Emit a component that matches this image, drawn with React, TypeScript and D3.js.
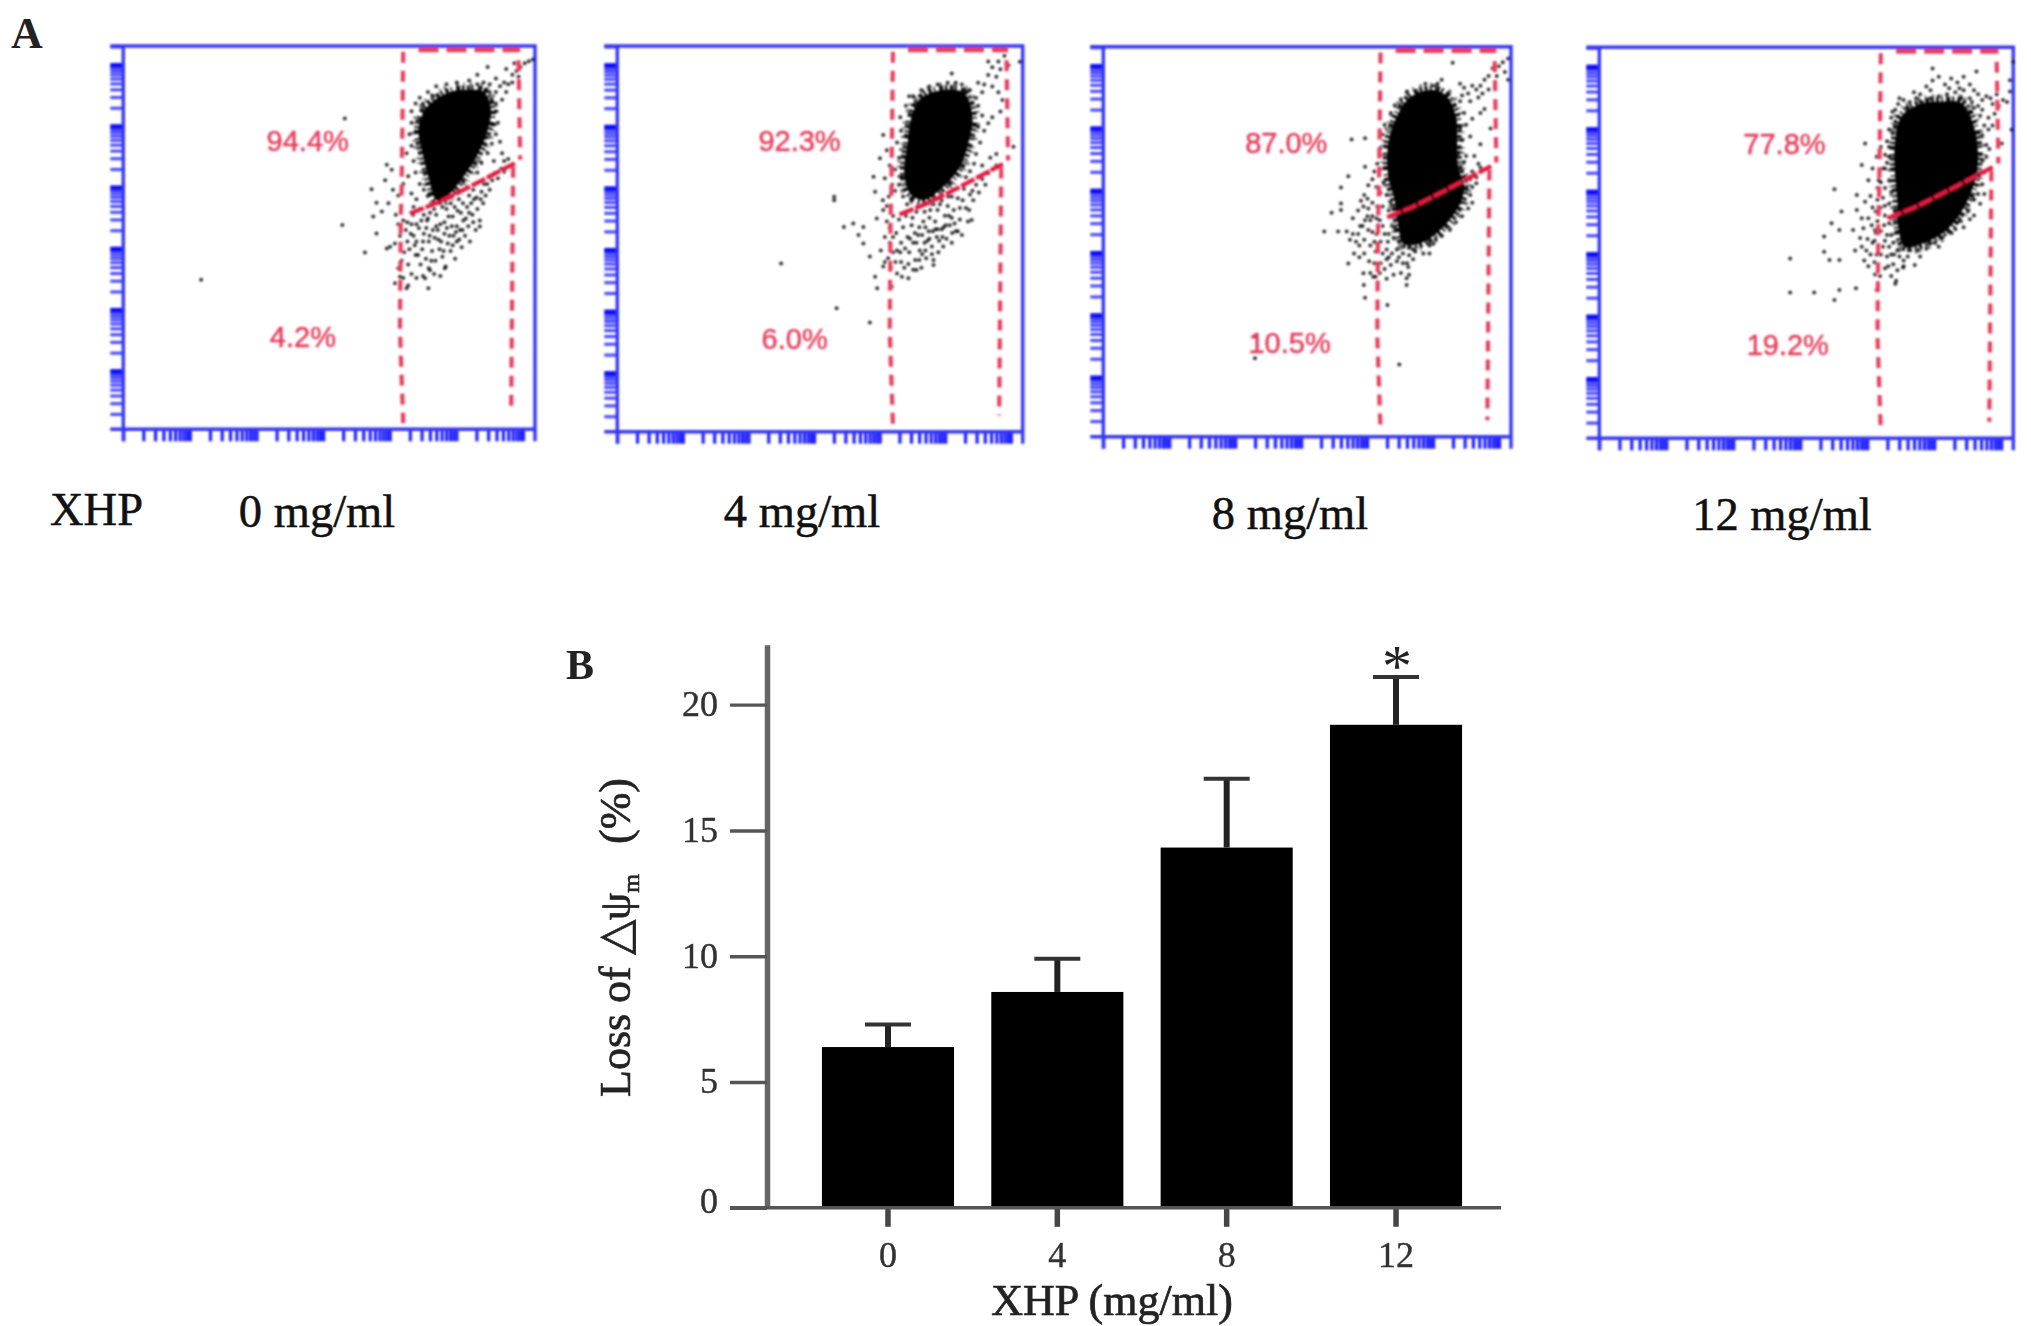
import React, { useEffect, useRef } from 'react'
import * as d3 from 'd3'

// ---- panel A, flow plots. events are in display channels 0-1000 on both axes
type Pt = [number, number]

const doses = ['0 mg/ml', '4 mg/ml', '8 mg/ml', '12 mg/ml']
const upperPct = ['94.4%', '92.3%', '87.0%', '77.8%']
const lowerPct = ['4.2%', '6.0%', '10.5%', '19.2%']

const gateLeft: Pt[] = [[680, 985], [676, 624], [674, 555], [672, 259], [680, 16]]
const gateRightUpper: Pt[] = [[960, 963], [964, 703]]
const gateRightLower: Pt[] = [[947, 685], [942, 42]]
const gateTop: Pt[] = [[717, 990], [964, 990]]
const gateSplit: Pt[] = [[696, 563], [761, 590], [842, 633], [951, 694]]

const core0: Pt[] = [[830, 885], [875, 880], [893, 835], [885, 781], [862, 720], [826, 659], [785, 607], [761, 598], [741, 659], [727, 720], [717, 781], [732, 833], [765, 865], [800, 882]]
const core4: Pt[] = [[804, 886], [855, 878], [876, 817], [866, 748], [845, 687], [804, 635], [755, 601], [722, 618], [708, 670], [716, 748], [726, 817], [750, 865]]
const core8: Pt[] = [[809, 889], [840, 875], [865, 821], [868, 752], [870, 692], [885, 641], [875, 598], [834, 538], [777, 496], [736, 496], [722, 556], [714, 610], [699, 667], [699, 752], [720, 821], [755, 872]]
const core12: Pt[] = [[825, 861], [875, 857], [905, 797], [915, 720], [908, 661], [882, 593], [839, 533], [783, 499], [738, 490], [722, 541], [720, 609], [714, 677], [714, 754], [730, 823], [775, 855]]

const cells0: Pt[] = [
  [538, 811], [532, 533], [587, 461], [189, 390], [603, 626], [615, 591], [615, 511], [640, 690], [652, 677], [636, 650], [644, 590], [607, 555], [628, 568], [648, 476], [660, 485], [640, 472], [660, 381], [672, 398], [688, 368], [741, 368], [733, 394], [781, 420], [866, 529],
  [905, 880], [915, 895], [925, 905], [935, 900], [945, 925], [955, 935], [965, 945], [975, 955], [985, 960], [995, 965], [930, 880], [945, 905], [960, 920], [905, 850], [920, 860], [890, 900], [875, 905], [860, 925], [905, 915], [890, 880], [950, 955], [930, 940], [885, 945],
  [700, 830], [710, 850], [720, 865], [740, 880], [760, 895], [785, 900], [810, 905], [840, 910], [860, 900], [880, 885], [905, 830], [910, 800], [905, 770], [895, 745], [885, 720], [870, 695], [900, 700], [920, 720], [890, 660], [860, 670], [700, 800], [695, 770], [700, 740], [705, 700], [710, 670], [720, 640], [730, 625], [740, 610], [688, 720], [692, 660], [680, 640], [668, 610], [655, 625], [700, 615], [712, 600], [722, 810], [728, 850], [752, 870], [895, 860], [900, 795], [880, 760], [915, 750], [925, 700], [935, 705],
  [662, 560], [668, 535], [672, 505], [680, 545], [686, 520], [690, 490], [695, 470], [700, 535], [705, 505], [710, 455], [712, 490], [718, 525], [722, 430], [726, 470], [730, 510], [735, 445], [738, 545], [742, 490], [745, 415], [750, 465], [752, 520], [758, 440], [760, 560], [765, 495], [768, 470], [770, 535], [775, 450], [780, 510], [783, 425], [788, 485], [790, 555], [795, 465], [798, 530], [802, 505], [806, 445], [810, 490], [812, 570], [818, 520], [822, 475], [826, 545], [830, 505], [835, 580], [838, 530], [842, 490], [848, 560], [852, 600], [856, 520], [860, 575], [866, 545], [870, 620], [874, 590], [880, 610], [884, 640], [890, 625], [896, 650], [902, 668], [910, 655], [918, 680], [925, 672], [682, 462], [676, 440], [668, 420], [692, 430], [700, 405], [712, 395], [728, 400], [692, 375], [680, 395], [742, 420], [755, 405], [770, 400],
  [775, 580], [785, 575], [795, 590], [805, 580], [815, 600], [825, 590], [840, 610], [850, 625], [755, 575], [745, 565], [800, 555], [820, 565], [845, 590], [780, 540], [760, 530], [810, 530], [730, 560], [720, 575], [705, 580],
  [690, 540], [698, 510], [708, 480], [716, 455], [728, 490], [736, 525], [744, 505], [748, 440], [756, 500], [764, 520], [772, 490], [778, 465], [786, 525], [792, 505], [800, 480], [808, 515], [816, 495], [824, 520], [832, 550], [840, 565], [850, 540], [858, 605], [868, 600], [876, 640], [740, 550], [724, 545], [712, 535], [704, 560],
]

const cells4: Pt[] = [
  [535, 609], [535, 600], [559, 531], [582, 540], [404, 436], [541, 320], [623, 283], [977, 739], [993, 959], [825, 929], [656, 769], [648, 709], [632, 661], [660, 657], [636, 622], [656, 575], [640, 553], [607, 531], [595, 510], [607, 488], [623, 454], [656, 428], [636, 402], [641, 372], [677, 376], [702, 402], [718, 398], [738, 419], [780, 432], [874, 549],
  [905, 900], [915, 925], [925, 945], [940, 960], [955, 975], [915, 960], [935, 920], [945, 940], [965, 950], [900, 880], [890, 905], [925, 895], [940, 880], [950, 860], [945, 830], [915, 800], [925, 815], [900, 820], [905, 780], [890, 845], [870, 885], [850, 900], [835, 905], [815, 905], [790, 900], [770, 895], [750, 885], [730, 870], [712, 845], [698, 815], [700, 780], [690, 750], [695, 710], [685, 680], [700, 660], [672, 690], [665, 730], [890, 790], [895, 750], [885, 720], [880, 695], [900, 690], [920, 710], [935, 720], [870, 675], [860, 660], [720, 870], [735, 850], [885, 865],
  [655, 600], [665, 585], [670, 610], [678, 640], [685, 625], [695, 640], [705, 610], [715, 590], [725, 600], [665, 545], [672, 530], [680, 560], [688, 515], [695, 550], [700, 490], [705, 530], [712, 560], [716, 505], [720, 465], [726, 535], [730, 490], [735, 445], [738, 570], [742, 510], [746, 470], [750, 425], [755, 545], [758, 490], [762, 450], [768, 520], [772, 575], [776, 480], [780, 445], [784, 545], [788, 505], [792, 465], [796, 590], [800, 525], [804, 480], [808, 560], [812, 500], [816, 610], [820, 535], [825, 490], [830, 575], [835, 520], [840, 605], [845, 550], [850, 510], [855, 630], [860, 580], [865, 545], [870, 615], [878, 600], [885, 640], [892, 620], [900, 655], [908, 640], [915, 670], [925, 680], [935, 690],
  [672, 490], [680, 465], [686, 440], [675, 425], [690, 410], [700, 440], [708, 425], [718, 435], [730, 420], [745, 445], [760, 470], [680, 505], [690, 470], [660, 505], [650, 470], [668, 450], [660, 440], [728, 555], [748, 585], [770, 555], [790, 575], [815, 585], [745, 530], [765, 495], [785, 525], [805, 530], [825, 555], [845, 580],
  [710, 475], [722, 500], [734, 515], [752, 460], [770, 500], [778, 520], [794, 495], [810, 535], [818, 560], [832, 540], [840, 520], [852, 600], [868, 575], [876, 625], [752, 510], [760, 530], [738, 490], [698, 465], [776, 460], [790, 525], [802, 505], [826, 515], [758, 570], [780, 590], [800, 600], [825, 610],
]

const cells8: Pt[] = [
  [609, 762], [642, 765], [642, 692], [601, 668], [583, 639], [583, 598], [583, 581], [560, 574], [542, 526], [576, 526], [597, 526], [601, 444], [638, 419], [662, 410], [639, 389], [642, 356], [697, 338], [744, 406], [744, 389], [726, 185], [372, 201], [372, 256], [857, 959], [993, 970], [993, 915],
  [970, 950], [980, 960], [955, 945], [945, 925], [935, 915], [925, 900], [915, 890], [905, 900], [895, 880], [885, 895], [875, 905], [880, 875], [900, 860], [930, 880], [945, 890], [965, 925], [985, 935], [830, 915], [820, 905], [810, 900], [790, 905], [770, 880], [745, 885], [730, 865], [715, 850], [705, 830], [690, 800], [685, 775], [680, 740], [672, 700], [665, 680], [875, 860], [885, 830], [890, 800], [905, 815], [875, 790], [880, 760], [870, 725], [900, 770], [885, 705], [905, 680], [920, 700], [925, 690], [900, 660], [915, 665], [880, 680], [890, 720], [910, 720], [925, 750], [920, 870], [935, 840], [950, 790], [925, 830],
  [688, 650], [680, 625], [670, 640], [660, 660], [650, 645], [640, 620], [632, 605], [625, 580], [612, 560], [605, 505], [620, 500], [612, 520], [630, 540], [642, 555], [650, 530], [640, 505], [628, 490], [655, 490], [668, 475], [660, 565], [672, 590], [678, 555], [685, 590], [695, 620], [700, 580], [708, 540], [690, 520], [680, 500], [695, 480], [712, 510], [670, 520], [650, 585], [615, 470], [628, 460], [640, 470], [652, 450], [665, 445], [680, 445], [695, 455], [708, 470], [720, 480], [735, 470], [750, 465], [765, 475], [785, 470], [800, 490], [815, 505], [690, 430], [705, 440], [720, 450], [735, 445], [748, 435], [730, 420], [712, 415], [695, 405], [678, 420], [668, 410], [750, 415], [655, 420],
  [900, 620], [905, 600], [895, 585], [880, 565], [865, 550], [850, 530], [830, 515], [810, 495], [905, 640], [915, 650], [890, 655], [800, 470], [760, 480], [875, 600], [850, 580],
  [660, 600], [648, 565], [636, 540], [625, 520], [660, 525], [672, 495], [685, 470], [698, 500], [705, 600], [715, 570], [700, 460], [665, 500], [648, 610], [638, 590], [655, 555], [670, 560], [685, 540], [700, 520], [715, 535], [725, 460], [745, 445], [760, 455],
]

const cells12: Pt[] = [
  [805, 946], [461, 460], [461, 373], [519, 373], [568, 354], [580, 379], [620, 384], [670, 379], [666, 419], [717, 403], [762, 443], [734, 437], [543, 516], [543, 477], [556, 456], [580, 456], [561, 550], [580, 533], [585, 580], [568, 637], [618, 480], [634, 490], [642, 754], [634, 699], [622, 622], [642, 605], [622, 584], [634, 563], [650, 563], [613, 533], [638, 537], [630, 512], [666, 533], [1000, 963], [996, 789], [972, 754], [863, 552], [911, 938], [992, 916], [992, 887],
  [775, 880], [790, 900], [805, 915], [820, 925], [835, 905], [850, 920], [865, 910], [880, 925], [895, 905], [905, 890], [915, 880], [925, 865], [935, 875], [945, 870], [960, 880], [975, 865], [985, 860], [950, 855], [965, 850], [860, 885], [880, 890], [840, 880], [820, 875], [800, 870], [780, 860], [765, 870], [750, 860], [735, 865], [722, 855], [715, 840], [705, 820], [700, 790], [695, 760], [690, 725], [685, 690], [675, 660], [670, 720], [680, 745], [690, 690], [700, 660], [705, 630], [690, 640], [672, 610], [680, 590], [690, 570], [700, 550], [705, 520], [700, 490], [690, 505], [680, 530], [672, 555], [665, 505], [680, 470], [695, 465], [712, 470], [725, 465], [745, 465], [770, 480], [790, 485], [810, 500], [830, 515], [850, 525], [870, 555], [890, 580], [905, 610], [925, 650], [930, 680], [935, 720], [935, 750], [925, 775], [930, 800], [920, 825], [905, 845], [895, 835], [945, 690], [950, 800], [955, 830], [940, 820], [895, 870], [875, 870], [710, 445], [698, 440], [720, 430], [735, 455], [690, 435], [705, 415], [665, 450], [670, 470], [715, 395], [678, 415],
  [660, 690], [650, 660], [655, 620], [660, 590], [668, 580], [658, 545], [648, 510], [672, 640], [685, 615], [655, 470], [660, 500], [645, 480], [650, 440], [640, 455], [668, 525], [688, 545], [700, 600], [695, 520], [710, 500], [720, 480], [700, 720], [708, 780], [715, 810], [925, 710], [920, 600], [905, 570], [880, 540],
  [690, 595], [680, 655], [695, 705], [700, 745], [708, 835], [725, 870], [760, 885], [800, 890], [845, 895], [870, 895], [900, 860], [915, 850], [925, 840], [940, 790], [942, 740], [930, 625], [915, 625], [895, 560], [860, 535], [820, 490], [775, 465], [735, 440], [705, 470], [685, 490],
]

const cellPanels = [cells0, cells4, cells8, cells12]
const corePanels = [core0, core4, core8, core12]

// frame of each plot as it sits in the figure [left, right, top, bottom]
const frames = [
  [123.3, 535, 46, 429.3],
  [617.3, 1022.7, 46, 431.7],
  [1103.3, 1511, 46.7, 436.7],
  [1599.3, 2013.3, 47.3, 438.3],
]
const doseCenter = [317, 802, 1290, 1782]
const doseBase = [527, 527, 529, 530]

const pctUpper: Pt = [348, 727]
const pctLower: Pt = [356, 214]

// ---- panel B, bar chart
const xhpDose = ['0', '4', '8', '12']
const lossMean = [6.39, 8.58, 14.32, 19.2]
const lossUpper = [7.29, 9.9, 17.06, 21.1]
const lossTicks = [0, 5, 10, 15, 20]

const BLUE = '#3434f4'
const RED = '#e6405f'
const SERIF = '"Liberation Serif", serif'
const SANS = '"Liberation Sans", sans-serif'

export default function App() {
  const ref = useRef<SVGSVGElement>(null)

  useEffect(() => {
    const svg = d3.select(ref.current)
    svg.selectAll('*').remove()

    const defs = svg.append('defs')
    defs.append('filter').attr('id', 'soft').attr('x', '-5%').attr('y', '-5%').attr('width', '110%').attr('height', '110%')
      .append('feGaussianBlur').attr('stdDeviation', 0.85)
    defs.append('filter').attr('id', 'softer').attr('x', '-5%').attr('y', '-5%').attr('width', '110%').attr('height', '110%')
      .append('feGaussianBlur').attr('stdDeviation', 0.5)

    svg.append('text').attr('x', 11).attr('y', 48)
      .style('font', `bold 44px ${SERIF}`).attr('fill', '#222').text('A')

    frames.forEach((f, i) => {
      const [L, R, T, B] = f
      const chX = d3.scaleLinear().domain([0, 1000]).range([L, R])
      const chY = d3.scaleLinear().domain([0, 1000]).range([B, T])
      // log axes of the cytometer: 10^6 sits a bit inside the frame
      const logX = d3.scaleLog().domain([1, Math.pow(10, 6.18)]).range([L, R])
      const logY = d3.scaleLog().domain([Math.pow(10, 0.05), Math.pow(10, 6.31)]).range([B, T])

      const g = svg.append('g').attr('filter', 'url(#soft)')

      const axL = g.append('g').attr('transform', `translate(${L},0)`)
        .call(d3.axisLeft(logY).ticks(10).tickSize(13).tickSizeOuter(0).tickFormat(() => ''))
      const axB = g.append('g').attr('transform', `translate(0,${B})`)
        .call(d3.axisBottom(logX).ticks(10).tickSize(12).tickSizeOuter(0).tickFormat(() => ''))
      axL.select('.domain').remove()
      axB.select('.domain').remove()
      axL.selectAll<SVGLineElement, number>('.tick line')
        .attr('stroke', d => (Math.abs(Math.log10(d) % 1) < 1e-6 ? '#0808ff' : '#5050ff'))
        .attr('stroke-width', d => (Math.abs(Math.log10(d) % 1) < 1e-6 ? 5 : 3.2))
      axB.selectAll('.tick line').attr('stroke', '#2020ff').attr('stroke-width', 3.2)

      const frame = d3.path()
      frame.moveTo(L - 13, T); frame.lineTo(R, T); frame.lineTo(R, B + 12)
      frame.moveTo(L, T); frame.lineTo(L, B + 12)
      frame.moveTo(L - 13, B); frame.lineTo(R, B)
      g.append('path').attr('d', frame.toString()).attr('fill', 'none')
        .attr('stroke', BLUE).attr('stroke-width', 3.4)

      g.selectAll('circle.ev').data(cellPanels[i]).enter().append('circle').attr('class', 'ev')
        .attr('cx', d => chX(d[0])).attr('cy', d => chY(d[1]))
        .attr('r', 2).attr('fill', '#000').attr('opacity', 0.8)

      const blob = d3.line<Pt>().x(d => chX(d[0])).y(d => chY(d[1])).curve(d3.curveCatmullRomClosed)
      // speckled edge: two uneven dotted strokes round the solid core
      g.append('path').attr('d', blob(corePanels[i])).attr('fill', 'none')
        .attr('stroke', '#000').attr('stroke-width', 15).attr('stroke-dasharray', '1.5 5 2.5 7 1.5 3 2 9 3 4')
        .attr('opacity', 0.55)
      g.append('path').attr('d', blob(corePanels[i])).attr('fill', 'none')
        .attr('stroke', '#000').attr('stroke-width', 9).attr('stroke-dasharray', '3 2 1.5 4 4 1.5 2 3')
        .attr('opacity', 0.9)
      g.append('path').attr('d', blob(corePanels[i])).attr('fill', '#000')

      const gateLine = d3.line<Pt>().x(d => chX(d[0])).y(d => chY(d[1]))
      const gates = g.append('g').attr('fill', 'none').attr('stroke', RED).attr('stroke-width', 4.2)
      ;[gateLeft, gateRightUpper, gateRightLower].forEach(seg => {
        gates.append('path').attr('d', gateLine(seg)).attr('stroke-dasharray', '11 8')
      })
      gates.append('path').attr('d', gateLine(gateTop)).attr('stroke-dasharray', '20 8').attr('stroke-width', 5)
      gates.append('path').attr('d', gateLine(gateSplit)).attr('stroke', '#e01c40').attr('stroke-dasharray', '15 2')

      g.append('text').attr('x', chX(pctUpper[0])).attr('y', chY(pctUpper[1]))
        .style('font', `29px ${SANS}`).attr('fill', RED).attr('stroke', RED).attr('stroke-width', 0.5).text(upperPct[i])
      g.append('text').attr('x', chX(pctLower[0])).attr('y', chY(pctLower[1]))
        .style('font', `29px ${SANS}`).attr('fill', RED).attr('stroke', RED).attr('stroke-width', 0.5).text(lowerPct[i])

      svg.append('text').attr('x', doseCenter[i]).attr('y', doseBase[i]).attr('text-anchor', 'middle')
        .style('font', `46.5px ${SERIF}`).attr('fill', '#111').attr('stroke', '#111').attr('stroke-width', 0.5).text(doses[i])
    })

    svg.append('text').attr('x', 50).attr('y', 525)
      .style('font', `46.5px ${SERIF}`).attr('fill', '#111').attr('stroke', '#111').attr('stroke-width', 0.5).text('XHP')

    // panel B
    const y = d3.scaleLinear().domain([0, 22.38]).range([1207.8, 644.8])
    const x = d3.scaleBand<string>().domain(xhpDose).range([803.3, 1480.7]).paddingInner(0.22).paddingOuter(0.11)
    const yAxisX = 767

    const b = svg.append('g').attr('filter', 'url(#softer)')

    b.selectAll('rect.bar').data(lossMean).enter().append('rect').attr('class', 'bar')
      .attr('x', (_, i) => x(xhpDose[i])!)
      .attr('y', d => y(d))
      .attr('width', x.bandwidth())
      .attr('height', d => y(0) - y(d))
      .attr('fill', '#000')

    lossUpper.forEach((v, i) => {
      const cx = x(xhpDose[i])! + x.bandwidth() / 2
      b.append('line').attr('x1', cx).attr('x2', cx).attr('y1', y(lossMean[i])).attr('y2', y(v))
        .attr('stroke', '#222').attr('stroke-width', 6)
      b.append('line').attr('x1', cx - 23).attr('x2', cx + 23).attr('y1', y(v)).attr('y2', y(v))
        .attr('stroke', '#333').attr('stroke-width', 4)
    })

    const yAxis = b.append('g').attr('transform', `translate(${yAxisX},0)`)
      .call(d3.axisLeft(y).tickValues(lossTicks).tickSize(37).tickSizeOuter(0).tickPadding(12))
    yAxis.select('.domain').attr('stroke', '#666').attr('stroke-width', 5.5)
    yAxis.selectAll('.tick line').attr('stroke', '#555').attr('stroke-width', 3.4)
    yAxis.selectAll<SVGTextElement, number>('.tick text')
      .attr('dy', d => (d === 0 ? '0.14em' : '0.3em'))
      .style('font', `36px ${SERIF}`).attr('fill', '#333').attr('stroke', '#333').attr('stroke-width', 0.4)

    const xAxis = b.append('g').attr('transform', `translate(0,${y(0)})`)
      .call(d3.axisBottom(x).tickSize(19).tickSizeOuter(0).tickPadding(15))
    xAxis.select('.domain').remove()
    xAxis.selectAll('.tick line').attr('stroke', '#444').attr('stroke-width', 5.5)
    xAxis.selectAll('.tick text').style('font', `36px ${SERIF}`).attr('fill', '#333').attr('stroke', '#333').attr('stroke-width', 0.4)

    b.append('line').attr('x1', yAxisX - 37).attr('x2', 1501).attr('y1', y(0)).attr('y2', y(0))
      .attr('stroke', '#555').attr('stroke-width', 3.4)

    b.append('text').attr('x', 1397).attr('y', 686).attr('text-anchor', 'middle')
      .style('font', `60px ${SERIF}`).attr('fill', '#222').text('*')

    b.append('text').attr('x', 1112).attr('y', 1315).attr('text-anchor', 'middle')
      .style('font', `44px ${SERIF}`).attr('fill', '#222').attr('stroke', '#222').attr('stroke-width', 0.7).text('XHP (mg/ml)')

    const yTitle = b.append('text').attr('transform', 'translate(630,1097) rotate(-90)')
      .style('font', `44px ${SERIF}`).attr('fill', '#222').attr('stroke', '#222').attr('stroke-width', 0.7)
    yTitle.append('tspan').text('Loss of ')
    yTitle.append('tspan').style('font-size', '46px').text('△')
    yTitle.append('tspan').text('ψ')
    yTitle.append('tspan').attr('dy', 9).style('font-size', '24px').text('m')
    yTitle.append('tspan').attr('dy', -9).attr('dx', 30).text('(%)')

    svg.append('text').attr('x', 566).attr('y', 679)
      .style('font', `bold 42px ${SERIF}`).attr('fill', '#222').text('B')
  }, [])

  return (
    <svg
      ref={ref}
      width={2031}
      height={1326}
      style={{ position: 'absolute', left: 0, top: 0, background: '#fff' }}
    />
  )
}
